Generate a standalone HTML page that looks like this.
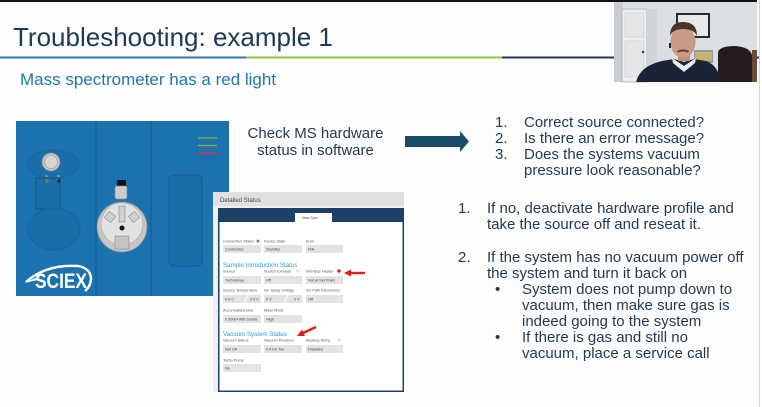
<!DOCTYPE html>
<html><head><meta charset="utf-8">
<style>
html,body{margin:0;padding:0;background:#fff;}
body{width:762px;height:407px;overflow:hidden;}
svg{display:block;}
.t{font-family:"Liberation Sans",Arial,sans-serif;}
</style></head>
<body>
<svg width="762" height="407" viewBox="0 0 762 407" xmlns="http://www.w3.org/2000/svg" class="t">
<rect x="0" y="0" width="762" height="407" fill="#fdfdfd"/>
<!-- top black bar -->
<rect x="0" y="0" width="757" height="2" fill="#111"/>
<!-- right edge -->
<rect x="759" y="0" width="1" height="407" fill="#d4d4d4"/>
<!-- title -->
<text x="13" y="46" font-size="26" fill="#1d3a52">Troubleshooting: example 1</text>
<!-- colored rule -->
<rect x="0" y="56.5" width="246" height="2" fill="#2b7db8"/>
<rect x="246" y="56.5" width="256" height="2" fill="#8cc63f"/>
<rect x="502" y="56.5" width="112" height="2" fill="#1d3a52"/>
<rect x="757" y="56.5" width="2" height="2" fill="#1d3a52"/>
<!-- subtitle -->
<text x="20" y="85" font-size="17" fill="#1f78ae">Mass spectrometer has a red light</text>

<!-- webcam -->
<g>
<rect x="614" y="2" width="143" height="80" fill="#dcdfe2"/>
<rect x="614" y="2" width="9" height="80" fill="#c9ccd0"/>
<rect x="622" y="9" width="25" height="73" fill="#eceef0" stroke="#a9adb2" stroke-width="0.8"/>
<rect x="625" y="13" width="19" height="24" fill="#e4e6e8" stroke="#c4c7ca" stroke-width="0.5"/>
<rect x="625" y="41" width="19" height="36" fill="#e4e6e8" stroke="#c4c7ca" stroke-width="0.5"/>
<circle cx="643" cy="52" r="1.2" fill="#333"/>
<rect x="647" y="9" width="10" height="73" fill="#d2d5d8"/>
<rect x="676" y="13" width="34" height="25" fill="#2a2a2e"/>
<rect x="678" y="15" width="30" height="21" fill="#e6e8ea"/>
<rect x="694" y="50" width="19" height="13" fill="#8a9aa8"/>
<rect x="695" y="52" width="17" height="9" fill="#c9b26c"/>
<path d="M718 82 L718 52 Q720 46 735 46 Q750 47 752 55 L752 82 Z" fill="#241c1d"/>
<rect x="752" y="50" width="5" height="32" fill="#6b4a3a"/>
<path d="M636 82 Q640 66 662 61 L674 59 L684 62 L694 59 L706 61 Q718 65 721 82 Z" fill="#1b2337"/>
<path d="M672 58 L684 66 L696 58 L695 63 L684 72 L673 63 Z" fill="#e8eaee"/>
<rect x="678" y="52" width="12" height="9" fill="#c08e7a"/>
<ellipse cx="683" cy="42" rx="12.5" ry="16" fill="#c99a86"/>
<path d="M670 36 Q670 22 683 22 Q697 22 697 36 Q694 29 683 29 Q673 29 670 36 Z" fill="#4a3328"/>
<path d="M677 51 Q683 48 689 51 L688 52.5 Q683 50.5 678 52.5 Z" fill="#5a3d2e"/>
<rect x="669" y="43" width="2" height="5" fill="#222"/>
</g>

<!-- device -->
<g>
<rect x="16" y="121" width="213" height="175" fill="#1b72ae"/>
<line x1="96" y1="121" x2="96" y2="296" stroke="#125b8e" stroke-width="1"/>
<line x1="151" y1="121" x2="151" y2="296" stroke="#125b8e" stroke-width="1"/>
<!-- left panel -->
<ellipse cx="53" cy="164" rx="26" ry="14" fill="#1a6ea8" stroke="#15619a" stroke-width="0.7"/>
<rect x="36" y="178" width="24" height="31" fill="#1a6ea8" stroke="#124f7c" stroke-width="0.8"/>
<ellipse cx="54" cy="229" rx="26" ry="21" fill="#1a6ea8" stroke="#15619a" stroke-width="0.8"/>
<circle cx="51" cy="162" r="9" fill="#c6c6c6" stroke="#8a8a8a" stroke-width="0.8"/>
<circle cx="51" cy="162" r="6.5" fill="#d6d6d6" stroke="#9a9a9a" stroke-width="0.6"/>
<text x="45.5" y="177" font-size="3" fill="#fff">A</text>
<text x="57.5" y="177" font-size="3" fill="#fff">B</text>
<circle cx="47" cy="181" r="1.8" fill="#7d7e35"/>
<circle cx="59" cy="181" r="1.8" fill="#2a2e3a"/>
<!-- SCIEX -->
<path d="M26 282 Q46 264 78 266 Q90 268 91 278 Q91 286 85 291" fill="none" stroke="#fff" stroke-width="2.4"/>
<path d="M24 283 L40 276 L38 280 Z" fill="#fff"/>
<text x="35" y="288" font-size="21" font-weight="bold" fill="#fff" textLength="52" lengthAdjust="spacingAndGlyphs">SCIEX</text>
<!-- middle panel -->
<rect x="117" y="180" width="9" height="7" fill="#111"/>
<rect x="115" y="186" width="12" height="13" rx="2" fill="#cdcdcd" stroke="#8c8c8c" stroke-width="0.7"/>
<circle cx="122" cy="227" r="25" fill="#c6c6c6" stroke="#8d8d8d" stroke-width="0.8"/>
<circle cx="122" cy="224" r="21" fill="#e2e2e2" stroke="#a5a5a5" stroke-width="0.6"/>
<rect x="119" y="206" width="6" height="16" fill="#cfcfcf" stroke="#8a8a8a" stroke-width="0.6"/>
<rect x="106" y="213" width="8" height="8" fill="#cfcfcf" stroke="#8a8a8a" stroke-width="0.6" transform="rotate(40 110 217)"/>
<rect x="130" y="213" width="8" height="8" fill="#cfcfcf" stroke="#8a8a8a" stroke-width="0.6" transform="rotate(-40 134 217)"/>
<circle cx="122" cy="228" r="2.5" fill="#111"/>
<rect x="115" y="236" width="14" height="13" fill="#c4c4c4" stroke="#888" stroke-width="0.6"/>
<!-- right panel -->
<rect x="169" y="175" width="33" height="91" rx="5" fill="#1a6ea8" stroke="#12578a" stroke-width="0.8"/>
<line x1="198" y1="138" x2="217" y2="138" stroke="#7fb83f" stroke-width="1.2"/>
<line x1="198" y1="145.5" x2="217" y2="145.5" stroke="#7fb83f" stroke-width="1.2"/>
<line x1="198" y1="153" x2="217" y2="153" stroke="#b04552" stroke-width="2"/>
</g>

<!-- check text and arrow -->
<text x="315.5" y="138" font-size="15" fill="#1d3a52" text-anchor="middle">Check MS hardware</text>
<text x="315.5" y="155" font-size="15" fill="#1d3a52" text-anchor="middle">status in software</text>
<polygon points="405,136 460,136 460,131 469,141.5 460,152 460,147 405,147" fill="#1b4b6b"/>

<!-- detailed status panel -->
<g>
<rect x="213" y="192" width="191" height="200" fill="#efefef"/>
<rect x="213" y="192" width="191" height="14" fill="#e0e0e0"/>
<text x="220" y="202" font-size="6" fill="#444">Detailed Status</text>
<rect x="218.75" y="208.75" width="184.5" height="182.5" fill="#fff" stroke="#1e3f66" stroke-width="1.5"/>
<rect x="218" y="208" width="186" height="14" fill="#1e3f66"/>
<rect x="295" y="213" width="37" height="9" fill="#fff"/>
<text x="302" y="219" font-size="3.2" fill="#555">Mass Spec</text>

<g font-size="3.8" fill="#555">
<text x="223" y="242.5">Connection Status</text>
<text x="264" y="242.5">Device State</text>
<text x="306" y="242.5">Error</text>
<text x="223" y="272.5">Source</text>
<text x="264" y="272.5">Source Exhaust</text>
<text x="306" y="272.5">Interface Heater</text>
<text x="223" y="291.5">Source Temperature</text>
<text x="264" y="291.5">Ion Spray Voltage</text>
<text x="306" y="291.5">Ion Path Electronics</text>
<text x="223" y="311.5">Accumulated Ions</text>
<text x="264" y="311.5">Mass Mode</text>
<text x="223" y="341.5">Vacuum Status</text>
<text x="264" y="341.5">Vacuum Pressure</text>
<text x="306" y="341.5">Backing Pump</text>
<text x="223" y="361.5">Turbo Pump</text>
</g>
<circle cx="258" cy="241" r="1.5" fill="#3cb43c"/>
<circle cx="298" cy="271" r="1.2" fill="none" stroke="#999" stroke-width="0.4"/>
<circle cx="339" cy="271" r="1.8" fill="#d42a2a"/>
<circle cx="339" cy="340" r="1.2" fill="none" stroke="#999" stroke-width="0.4"/>

<g fill="#e3e3e3">
<rect x="223" y="245" width="38" height="8"/>
<rect x="264" y="245" width="38" height="8"/>
<rect x="306" y="245" width="37" height="8"/>
<rect x="223" y="276" width="38" height="8"/>
<rect x="264" y="276" width="38" height="8"/>
<rect x="306" y="276" width="37" height="8"/>
<rect x="223" y="295" width="38" height="8"/>
<rect x="264" y="295" width="38" height="8"/>
<rect x="306" y="295" width="37" height="8"/>
<rect x="223" y="315" width="38" height="8"/>
<rect x="264" y="315" width="38" height="8"/>
<rect x="223" y="345" width="38" height="8"/>
<rect x="264" y="345" width="38" height="8"/>
<rect x="306" y="345" width="37" height="8"/>
<rect x="223" y="364" width="38" height="8"/>
</g>
<line x1="244" y1="303" x2="248" y2="295" stroke="#fff" stroke-width="0.8"/>
<line x1="284" y1="303" x2="288" y2="295" stroke="#fff" stroke-width="0.8"/>
<g font-size="3.8" fill="#444">
<text x="225" y="250.5">Connected</text>
<text x="266" y="250.5">Standby</text>
<text x="308" y="250.5">N/A</text>
<text x="225" y="281.5">Turbospray</text>
<text x="266" y="281.5">Off</text>
<text x="308" y="281.5">Not at Set Point</text>
<text x="225" y="300.5">0.0 C</text>
<text x="250" y="300.5">0.0 C</text>
<text x="266" y="300.5">0 V</text>
<text x="294" y="300.5">0 V</text>
<text x="308" y="300.5">Off</text>
<text x="225" y="320.5">0.0000+000 counts</text>
<text x="266" y="320.5">High</text>
<text x="225" y="350.5">Not OK</text>
<text x="266" y="350.5">0.0 E0 Torr</text>
<text x="308" y="350.5">Disabled</text>
<text x="225" y="369.5">No</text>
</g>
<text x="223" y="267" font-size="6.2" fill="#2a9ad6">Sample Introduction Status</text>
<text x="223" y="336" font-size="6.2" fill="#2a9ad6">Vacuum System Status</text>
<!-- red arrows -->
<line x1="365" y1="273" x2="350" y2="273" stroke="#e02020" stroke-width="2.4"/>
<polygon points="344,273 351,269.5 351,276.5" fill="#e02020"/>
<line x1="316" y1="327" x2="303" y2="333" stroke="#e02020" stroke-width="2.4"/>
<polygon points="297,336 302,329.5 305,336" fill="#e02020"/>
</g>

<!-- right text -->
<g font-size="15" fill="#1d3a52">
<text x="495" y="127">1.</text><text x="524" y="127">Correct source connected?</text>
<text x="495" y="143">2.</text><text x="524" y="143">Is there an error message?</text>
<text x="495" y="159">3.</text><text x="524" y="159">Does the systems vacuum</text>
<text x="524" y="175">pressure look reasonable?</text>

<text x="458" y="213">1.</text><text x="487" y="213">If no, deactivate hardware profile and</text>
<text x="487" y="229">take the source off and reseat it.</text>

<text x="458" y="262">2.</text><text x="487" y="262">If the system has no vacuum power off</text>
<text x="487" y="278">the system and turn it back on</text>
<text x="495" y="294">•</text><text x="522" y="294">System does not pump down to</text>
<text x="522" y="310">vacuum, then make sure gas is</text>
<text x="522" y="326">indeed going to the system</text>
<text x="495" y="342">•</text><text x="522" y="342">If there is gas and still no</text>
<text x="522" y="358">vacuum, place a service call</text>
</g>
</svg>
</body></html>
